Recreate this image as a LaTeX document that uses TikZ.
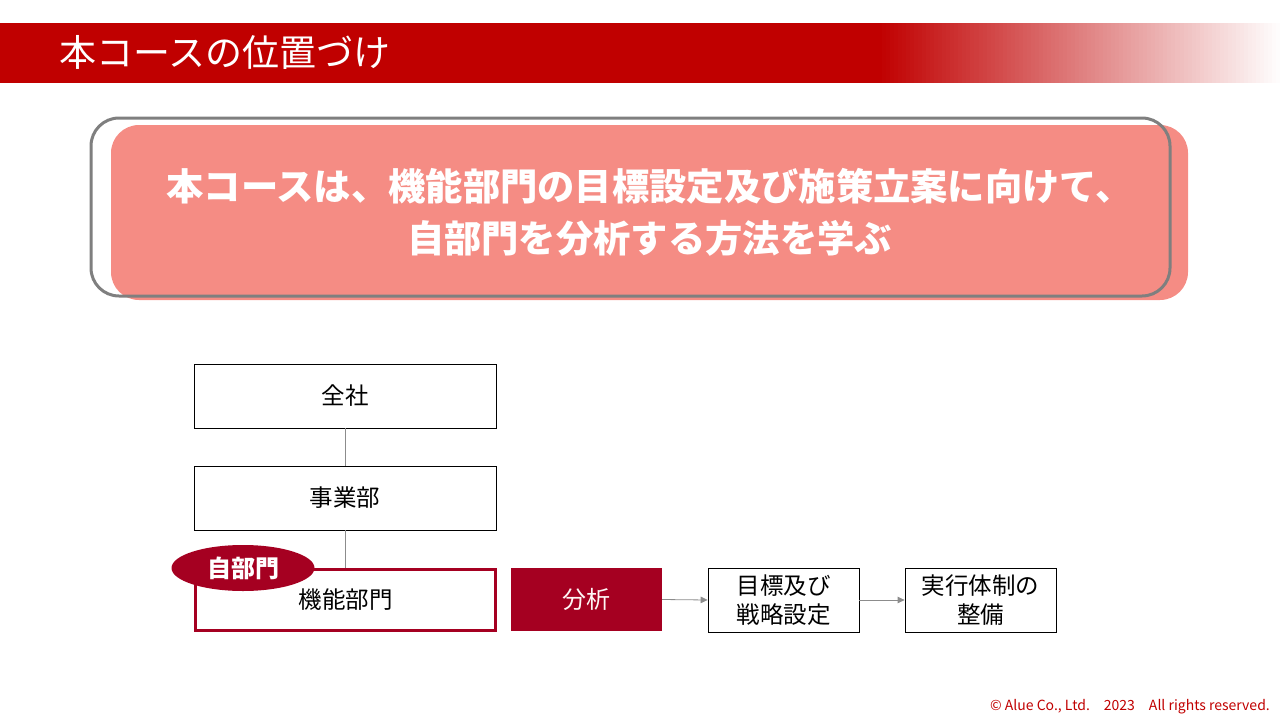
\documentclass[tikz,border=0pt]{standalone}
\usepackage{fontspec}
\setmainfont{Noto Sans CJK JP}
\usetikzlibrary{shapes.geometric,arrows.meta}
\definecolor{hdr}{HTML}{C00000}
\definecolor{pinkfill}{HTML}{F58C84}
\definecolor{grayline}{HTML}{7F7F7F}
\definecolor{dred}{HTML}{A50021}
\definecolor{conn}{HTML}{8C8C8C}
\tikzset{
  orgbox/.style={draw=black, line width=0.8pt, minimum width=302pt, minimum height=64pt, inner sep=0pt, font=\fontsize{23.5}{28}\selectfont},
  flowbox/.style={draw=black, line width=0.8pt, minimum width=151pt, minimum height=64pt, inner sep=0pt, align=center, font=\fontsize{23.5}{29}\selectfont},
  connline/.style={conn, line width=0.8pt},
  flowarrow/.style={conn, line width=0.8pt, -{Triangle[length=7pt,width=6.5pt]}}
}
\begin{document}
\begin{tikzpicture}[x=1pt,y=-1pt]
\useasboundingbox (0,0) rectangle (1280,720);
% header
\fill[hdr] (0,23) rectangle (880,83);
\foreach \i in {0,...,99}{
  \pgfmathsetmacro{\pc}{100-\i}
  \fill[hdr!\pc!white] ({878+4.02*\i},23) rectangle ({878+4.02*(\i+1)+0.5},83);
}
\node[anchor=west, text=white, inner sep=0pt, font=\fontsize{37}{42}\selectfont] (title) at (59,52) {本コースの位置づけ};
% message box
\node[fill=pinkfill, rounded corners=28pt, minimum width=1077pt, minimum height=175pt, inner sep=0pt, align=center, text=white, font=\bfseries\fontsize{37.3}{52}\selectfont] (msg) at (649.5,212.5) {本コースは、機能部門の目標設定及び施策立案に向けて、\\自部門を分析する方法を学ぶ};
\draw[grayline, line width=3pt, rounded corners=28pt] (91,118) rectangle (1170,296);
% org chart
\node[orgbox] (zensha) at (345,396) {全社};
\node[orgbox] (jigyo) at (345,498) {事業部};
\node[orgbox, draw=dred, line width=2.8pt, minimum width=300pt, minimum height=61pt] (kino) at (345.5,600) {機能部門};
\draw[connline] (zensha.south) -- (jigyo.north);
\draw[connline] (jigyo.south) -- (jigyo.south |- kino.north);
\node[ellipse, fill=dred, minimum width=143pt, minimum height=46pt, inner sep=0pt, text=white, font=\bfseries\fontsize{24}{28}\selectfont] (jibu) at (243,568) {自部門};
% flow
\node[fill=dred, minimum width=151pt, minimum height=63pt, inner sep=0pt, text=white!92!pinkfill, font=\fontsize{24}{28}\selectfont] (bunseki) at (586.5,599.5) {分析};
\node[flowbox] (mokuhyo) at (783.5,600) {目標及び\\戦略設定};
\node[flowbox] (jikko) at (980.5,600) {実行体制の\\整備};
\draw[flowarrow] (bunseki.east) -- (mokuhyo.west);
\draw[flowarrow] (mokuhyo.east) -- (jikko.west);
% footer
\node[anchor=base east, inner sep=0pt, text=hdr, font=\fontsize{14}{16}\selectfont] (copy) at (1270,710) {© Alue Co., Ltd.　2023　All rights reserved.};
\end{tikzpicture}
\end{document}
